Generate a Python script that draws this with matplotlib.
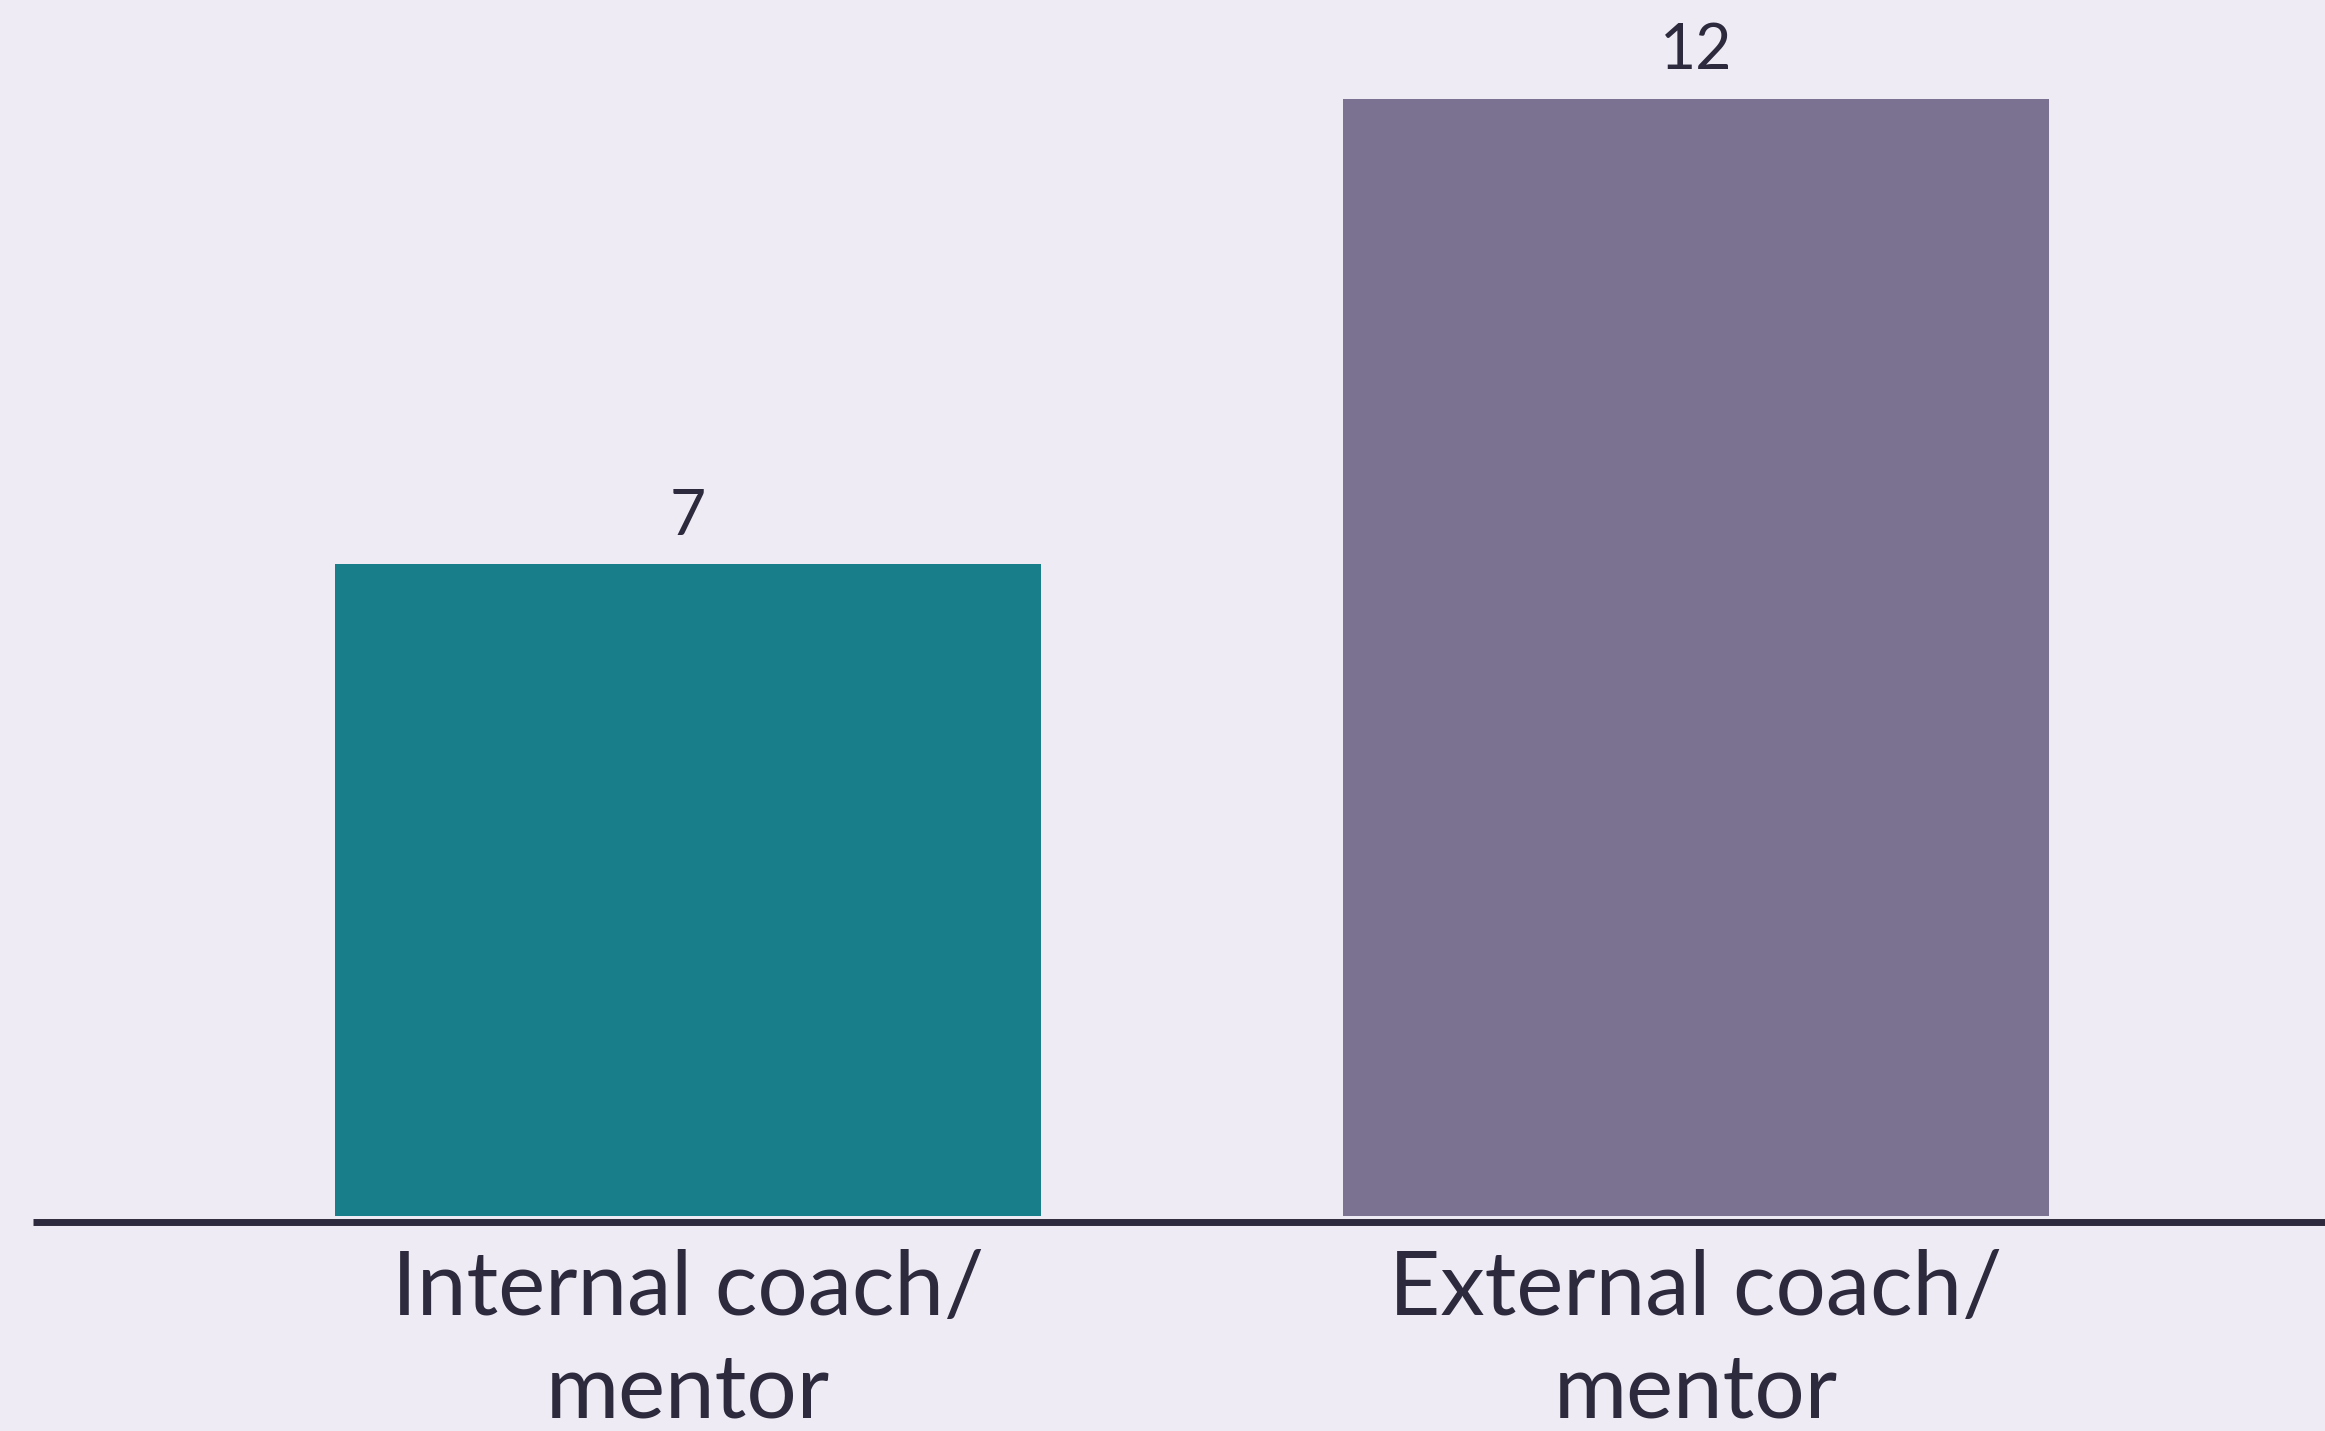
import numpy as np
import matplotlib
matplotlib.use('Agg')
import matplotlib.pyplot as plt

categories = ['Internal coach/\nmentor', 'External coach/\nmentor']
values = [7, 12]
colors = ['#187F8A', '#7A7290']

bg = '#EEEBF4'
ink = '#2E2A3D'

plt.rcParams['font.family'] = ['Lato', 'DejaVu Sans']

fig = plt.figure(figsize=(23.25, 14.31), dpi=100, facecolor=bg)
ax = fig.add_axes([33 / 2325, (1431 - 1216) / 1431, 1 - 33 / 2325, 1216 / 1431])
ax.set_facecolor(bg)

# spine first: set_position resets tick styling
for s in ['top', 'right', 'left']:
    ax.spines[s].set_visible(False)
ax.spines['bottom'].set_position(('outward', 4))
ax.spines['bottom'].set_color(ink)
ax.spines['bottom'].set_linewidth(5)
ax.spines['bottom'].set_capstyle('butt')

x = np.arange(len(values))
bars = ax.bar(x, values, width=0.7, color=colors, zorder=2)

for b, v in zip(bars, values):
    ax.text(b.get_x() + b.get_width() / 2, v + 0.2, str(v), ha='center', va='bottom',
            fontsize=45, color=ink)

ax.set_xlim(-0.65, 1.624)
ax.set_ylim(0, 1216 / 93.1)

ax.set_xticks(x)
ax.set_xticklabels(categories, fontsize=64, color=ink, linespacing=1.3)
ax.tick_params(axis='x', length=0, pad=20)
ax.set_yticks([])

fig.savefig('out.png', dpi=100, facecolor=bg)
